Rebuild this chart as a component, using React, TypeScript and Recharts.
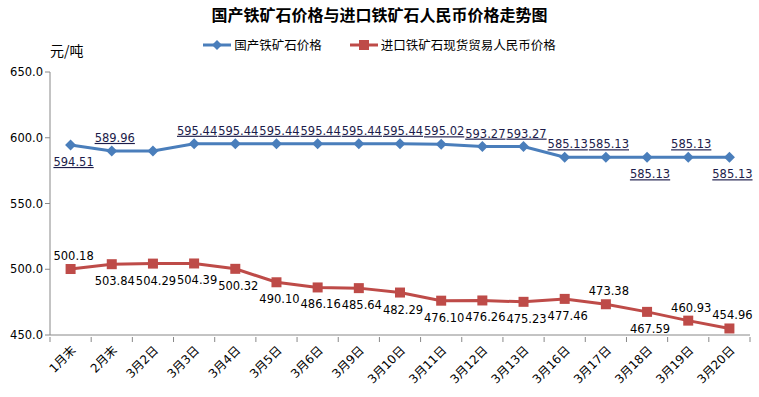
import { LineChart, Line, XAxis, YAxis, LabelList } from 'recharts'

const categories = ['1月末', '2月末', '3月2日', '3月3日', '3月4日', '3月5日', '3月6日', '3月9日', '3月10日', '3月11日', '3月12日', '3月13日', '3月16日', '3月17日', '3月18日', '3月19日', '3月20日']
const domesticPrice = [594.51, 589.96, 589.96, 595.44, 595.44, 595.44, 595.44, 595.44, 595.44, 595.02, 593.27, 593.27, 585.13, 585.13, 585.13, 585.13, 585.13]
const importPrice = [500.18, 503.84, 504.29, 504.39, 500.32, 490.1, 486.16, 485.64, 482.29, 476.1, 476.26, 475.23, 477.46, 473.38, 467.59, 460.93, 454.96]
const yTicks = [450, 500, 550, 600, 650]

const data = categories.map((name, i) => ({
  name,
  domestic: domesticPrice[i],
  imported: importPrice[i],
}))

const W = 759
const H = 397
const margin = { top: 72, right: 9, bottom: 32, left: 0 }
const xAxisHeight = 30
const yAxisWidth = 50
const band = (W - margin.left - margin.right - yAxisWidth) / categories.length

const BLUE = '#4A7EBB'
const RED = '#BE4B48'
const AXIS = '#888888'
const numFont = '"DejaVu Sans", Verdana, "Noto Sans CJK SC", sans-serif'
const cjkFont = '"Noto Sans CJK SC", "DejaVu Sans", sans-serif'

// label placement as in the original workbook
const domesticBelow = [0, 14, 16]
const domesticHidden = [2]
const importAbove = [0, 13, 15, 16]

const Diamond = (props: any) => {
  const { cx, cy, index } = props
  const r = 5.5
  return (
    <polygon
      key={`d-${index}`}
      points={`${cx},${cy - r} ${cx + r},${cy} ${cx},${cy + r} ${cx - r},${cy}`}
      fill={BLUE}
    />
  )
}

const Square = (props: any) => {
  const { cx, cy, index } = props
  return <rect key={`s-${index}`} x={cx - 5} y={cy - 5} width={10} height={10} fill={RED} />
}

const XTick = (props: any) => {
  const { x, y, payload, index } = props
  const tx = x + 6
  const ty = y + 14
  return (
    <g>
      <line x1={x - band / 2} x2={x - band / 2} y1={y} y2={y + 5} stroke={AXIS} />
      {index === categories.length - 1 && (
        <line x1={x + band / 2} x2={x + band / 2} y1={y} y2={y + 5} stroke={AXIS} />
      )}
      <text
        x={tx}
        y={ty}
        textAnchor="end"
        fontSize={12}
        fontFamily={numFont}
        fill="#000"
        transform={`rotate(-45, ${tx}, ${ty})`}
      >
        {payload.value}
      </text>
    </g>
  )
}

const domesticLabel = (props: any) => {
  const { x, y, value, index } = props
  if (domesticHidden.includes(index)) return null
  const below = domesticBelow.includes(index)
  return (
    <text
      x={x + 3}
      y={below ? y + 21 : y - 9}
      textAnchor="middle"
      fontSize={11.5}
      fontFamily={numFont}
      fill="#1c1c4a"
      textDecoration="underline"
    >
      {Number(value).toFixed(2)}
    </text>
  )
}

const importLabel = (props: any) => {
  const { x, y, value, index } = props
  const above = importAbove.includes(index)
  return (
    <text
      x={x + 3}
      y={above ? y - 9 : y + 21}
      textAnchor="middle"
      fontSize={11.5}
      fontFamily={numFont}
      fill="#000"
    >
      {Number(value).toFixed(2)}
    </text>
  )
}

export default function App() {
  return (
    <div style={{ position: 'absolute', left: 0, top: 0, width: W, height: H, background: '#fff' }}>
      <div
        style={{
          position: 'absolute',
          top: 2,
          left: 0,
          width: W,
          textAlign: 'center',
          fontFamily: cjkFont,
          fontWeight: 'bold',
          fontSize: 16,
          color: '#000',
        }}
      >
        国产铁矿石价格与进口铁矿石人民币价格走势图
      </div>
      <div
        style={{
          position: 'absolute',
          top: 35,
          left: 0,
          width: W,
          display: 'flex',
          justifyContent: 'center',
          fontFamily: cjkFont,
          fontSize: 12.5,
          color: '#000',
        }}
      >
        <div style={{ display: 'flex', alignItems: 'center', marginRight: 28 }}>
          <svg width={28} height={12} style={{ marginRight: 3 }}>
            <line x1={0} x2={28} y1={6} y2={6} stroke={BLUE} strokeWidth={3} />
            <polygon points="14,1 19,6 14,11 9,6" fill={BLUE} />
          </svg>
          国产铁矿石价格
        </div>
        <div style={{ display: 'flex', alignItems: 'center' }}>
          <svg width={28} height={12} style={{ marginRight: 3 }}>
            <line x1={0} x2={28} y1={6} y2={6} stroke={RED} strokeWidth={3} />
            <rect x={9} y={1} width={10} height={10} fill={RED} />
          </svg>
          进口铁矿石现货贸易人民币价格
        </div>
      </div>
      <div style={{ position: 'absolute', top: 40, left: 50, fontFamily: cjkFont, fontSize: 14, color: '#000' }}>
        元/吨
      </div>
      <LineChart width={W} height={H} data={data} margin={margin}>
        <XAxis
          dataKey="name"
          scale="band"
          interval={0}
          height={xAxisHeight}
          axisLine={{ stroke: AXIS }}
          tickLine={false}
          tickSize={0}
          tick={<XTick />}
        />
        <YAxis
          domain={[450, 650]}
          ticks={yTicks}
          width={yAxisWidth}
          axisLine={{ stroke: AXIS }}
          tickLine={{ stroke: AXIS }}
          tickSize={5}
          tickFormatter={(v) => Number(v).toFixed(1)}
          tick={{ fill: '#000', fontSize: 11.5, fontFamily: numFont }}
        />
        <Line
          dataKey="domestic"
          stroke={BLUE}
          strokeWidth={3}
          dot={Diamond}
          activeDot={false}
          isAnimationActive={false}
        >
          <LabelList dataKey="domestic" content={domesticLabel} />
        </Line>
        <Line
          dataKey="imported"
          stroke={RED}
          strokeWidth={3}
          dot={Square}
          activeDot={false}
          isAnimationActive={false}
        >
          <LabelList dataKey="imported" content={importLabel} />
        </Line>
      </LineChart>
    </div>
  )
}
